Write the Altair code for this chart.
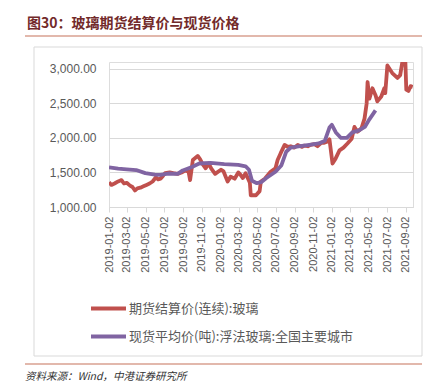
import altair as alt
import pandas as pd

# Futures settlement price (continuous): glass
fut_dates = ["2019-01-02","2019-01-10","2019-01-20","2019-02-01","2019-02-12","2019-02-20","2019-03-01",
             "2019-03-12","2019-03-20","2019-03-28","2019-04-05","2019-04-15","2019-04-25","2019-05-05",
             "2019-05-15","2019-05-25","2019-06-05","2019-06-12","2019-06-20","2019-06-28",
             "2019-07-05","2019-07-20","2019-08-01","2019-08-15","2019-08-28","2019-09-10","2019-09-20",
             "2019-09-25","2019-10-04","2019-10-20","2019-10-28","2019-11-05","2019-11-15","2019-11-25",
             "2019-12-03","2019-12-16","2020-01-04","2020-01-12","2020-01-26","2020-02-05","2020-02-18",
             "2020-03-01","2020-03-06","2020-03-16","2020-03-25","2020-04-08",
             "2020-04-11","2020-04-28","2020-05-10","2020-05-14","2020-05-27","2020-06-15","2020-07-01",
             "2020-07-08","2020-07-18","2020-07-31","2020-08-10","2020-08-20","2020-09-01","2020-09-12",
             "2020-09-25","2020-10-04","2020-10-15","2020-10-24","2020-11-05","2020-11-16","2020-11-28",
             "2020-12-08","2020-12-19","2020-12-25","2021-01-04","2021-01-14","2021-01-27",
             "2021-02-09","2021-02-22","2021-03-08","2021-03-17","2021-03-27","2021-04-09","2021-04-19",
             "2021-04-26","2021-04-29","2021-05-05","2021-05-15","2021-05-25","2021-05-31","2021-06-13",
             "2021-06-23","2021-06-26","2021-07-03","2021-07-13","2021-07-19","2021-08-05","2021-08-14",
             "2021-08-21","2021-08-31","2021-09-03","2021-09-10","2021-09-17","2021-09-24"]
fut_values = [1360,1320,1340,1370,1390,1340,1350,
              1310,1290,1240,1270,1280,1300,1320,
              1340,1370,1430,1400,1410,1450,
              1490,1500,1490,1480,1500,1530,1510,
              1390,1680,1740,1690,1620,1560,1630,
              1560,1480,1540,1520,1370,1440,1410,
              1500,1480,1420,1490,1350,
              1170,1170,1230,1370,1410,1510,1560,
              1680,1780,1900,1870,1880,1860,1900,
              1870,1890,1880,1900,1910,1880,1930,
              1930,1950,1980,1630,1700,1820,
              1860,1920,1990,2160,2090,2140,2280,
              2500,2810,2570,2720,2620,2530,2600,
              2720,2650,3050,2980,2940,2870,2910,
              3100,3100,2700,2680,2750,2740]

# Spot average price (per ton): float glass, major cities
spot_dates = ["2019-01-02","2019-02-01","2019-03-01","2019-04-01","2019-05-01","2019-06-01","2019-06-20",
              "2019-07-15","2019-08-15","2019-09-01","2019-10-01","2019-10-25","2019-12-01","2020-01-15",
              "2020-03-01","2020-03-25","2020-04-05","2020-04-15","2020-05-01","2020-05-15","2020-06-01",
              "2020-07-01","2020-07-20","2020-08-05","2020-08-20","2020-09-20","2020-10-20","2020-11-20",
              "2020-12-10","2020-12-25","2021-01-02","2021-01-15","2021-02-01","2021-02-20","2021-03-10",
              "2021-04-01","2021-04-20","2021-05-05","2021-05-25"]
spot_values = [1575,1555,1545,1535,1490,1470,1465,
               1485,1480,1530,1580,1630,1640,1620,
               1610,1590,1540,1380,1345,1360,1420,
               1510,1600,1800,1860,1880,1900,1920,
               1960,2150,2190,2080,2000,2000,2080,
               2110,2160,2270,2400]

s1 = "期货结算价(连续):玻璃"
s2 = "现货平均价(吨):浮法玻璃:全国主要城市"
tick_dates = ["2019-01-02","2019-03-02","2019-05-02","2019-07-02","2019-09-02","2019-11-02",
              "2020-01-02","2020-03-02","2020-05-02","2020-07-02","2020-09-02","2020-11-02",
              "2021-01-02","2021-03-02","2021-05-02","2021-07-02","2021-09-02"]
y_ticks = [1000, 1500, 2000, 2500, 3000]

df = pd.concat([
    pd.DataFrame({"date": fut_dates, "value": fut_values, "series": s1}),
    pd.DataFrame({"date": spot_dates, "value": spot_values, "series": s2}),
])

W, H = 304, 145
FONT = "Noto Sans CJK SC"

tick_vals = [alt.DateTime(year=int(d[:4]), month=int(d[5:7]), date=int(d[8:])) for d in tick_dates]

lines = alt.Chart(df).mark_line(strokeWidth=3.8, clip=True, strokeJoin="round").encode(
    x=alt.X("date:T",
            scale=alt.Scale(domain=[alt.DateTime(year=2019, month=1, date=2),
                                    alt.DateTime(year=2021, month=9, date=25)]),
            axis=alt.Axis(values=tick_vals, format="%Y-%m-%d", labelAngle=270, title=None,
                          grid=False, domainColor="#d9d9d9", tickColor="#d9d9d9", tickSize=5,
                          labelFontSize=11, labelColor="#595959", labelFont="Liberation Sans",
                          labelPadding=4)),
    y=alt.Y("value:Q", scale=alt.Scale(domain=[1000, 3100], nice=False),
            axis=alt.Axis(values=y_ticks, format=",.2f", title=None, domain=False, ticks=False,
                          gridColor="#d9d9d9", labelFontSize=12, labelColor="#595959",
                          labelFont="Liberation Sans", labelPadding=13)),
    color=alt.Color("series:N", scale=alt.Scale(domain=[s1, s2], range=["#c0504d", "#8064a2"]),
                    legend=alt.Legend(title=None, orient="none", legendX=-20, legendY=227,
                                      symbolType="stroke", symbolStrokeWidth=4, symbolSize=1225,
                                      labelFontSize=13, labelColor="#595959", labelFont=FONT,
                                      rowPadding=-7, labelLimit=400, symbolOffset=0, labelOffset=1)),
)

one = pd.DataFrame({"a": [0]})
box = alt.Chart(one).mark_rect(fillOpacity=0, stroke="#d9d9d9", strokeWidth=1).encode(
    x=alt.value(-75), x2=alt.value(313), y=alt.value(-15), y2=alt.value(294))
title_line = alt.Chart(one).mark_rule(color="#d9a090", strokeWidth=1.5).encode(
    x=alt.value(-84), x2=alt.value(313), y=alt.value(-26))
bottom_line = alt.Chart(one).mark_rule(color="#d9a090", strokeWidth=1.5).encode(
    x=alt.value(-84), x2=alt.value(313), y=alt.value(302))
title_txt = alt.Chart(one).mark_text(text="图30：玻璃期货结算价与现货价格", font=FONT, fontSize=14,
                                     fontWeight="bold", color="#722a2a", align="left",
                                     baseline="middle").encode(x=alt.value(-82), y=alt.value(-38))
src_txt = alt.Chart(one).mark_text(text="资料来源：Wind，中港证券研究所", font=FONT, fontSize=10.5,
                                   fontStyle="italic", color="#333333", align="left",
                                   baseline="middle").encode(x=alt.value(-84), y=alt.value(315))

chart = alt.layer(box, title_line, bottom_line, title_txt, src_txt, lines).properties(
    width=W, height=H,
    autosize=alt.AutoSizeParams(type="none"),
    padding={"left": 101, "top": 54, "right": 19, "bottom": 178},
).configure_view(stroke=None).configure(background="white")

chart.save("out.html", embed_options={"renderer": "svg", "actions": False})
